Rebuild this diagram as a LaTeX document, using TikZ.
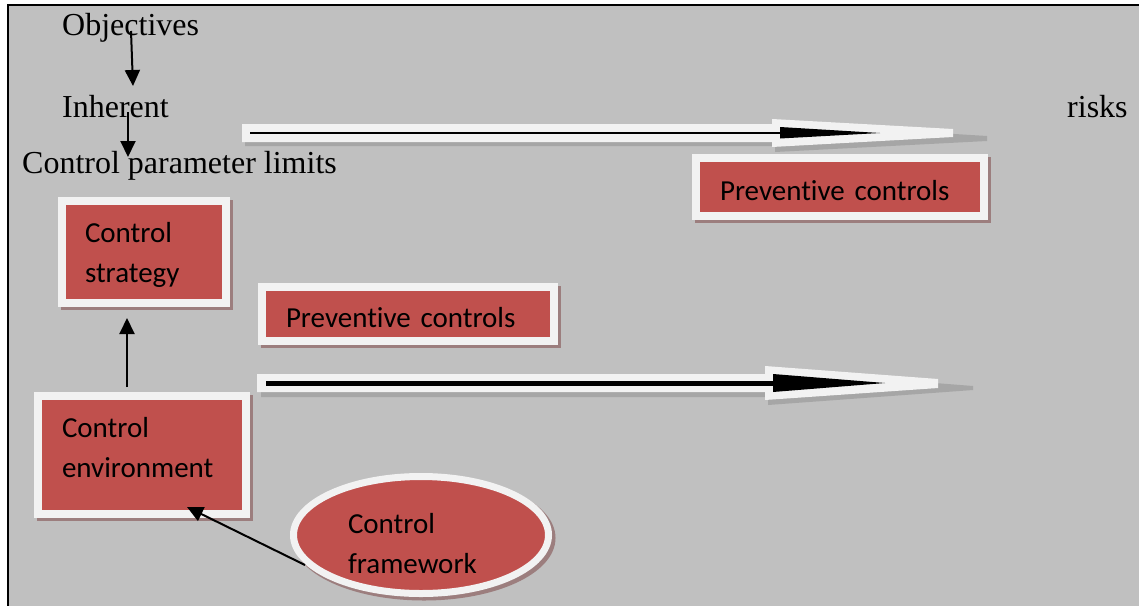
\documentclass[tikz,border=0pt]{standalone}
\usepackage{fontspec}
\setmainfont{Liberation Serif}
\newfontfamily\boxfont[Ligatures=NoCommon]{Carlito}
\usetikzlibrary{arrows.meta,shapes.geometric,shadows,calc}

\definecolor{pagegray}{RGB}{192,192,192}
\definecolor{boxred}{RGB}{192,80,77}
\definecolor{rim}{RGB}{242,242,242}
\definecolor{boxshade}{RGB}{156,126,126}
\definecolor{arrowshade}{RGB}{166,166,166}

\tikzset{
  plain/.style={anchor=base west, inner sep=0pt, font=\fontsize{32}{38}\selectfont},
  panel/.style={rectangle, fill=boxred, draw=rim, line width=8pt, inner sep=0pt,
    align=left, font=\boxfont\fontsize{29}{40}\selectfont,
    drop shadow={shadow xshift=3pt, shadow yshift=-3pt, fill=boxshade,
      draw=boxshade, line width=8pt, opacity=1}},
  conn/.style={line width=2pt, -{Triangle[length=16pt,width=15pt]}},
  blockarrow/.style={fill=rim},
  blockshade/.style={fill=arrowshade},
}

\begin{document}
\begin{tikzpicture}[x=1pt,y=-1pt]
\clip (0,0) rectangle (1139,605);
\useasboundingbox (0,0) rectangle (1139,605);
\fill[white] (0,0) rectangle (1139,605);
\filldraw[fill=pagegray, draw=black, line width=2pt] (7.7,5) rectangle (1150,620);

% upper block arrow
\path[blockshade] (245,128) -- (776,128) -- (776,123) -- (987,136) -- (987,141)
  -- (775,152) -- (775,146) -- (245,146) -- cycle;
\path[blockarrow] (242,124) -- (772,124) -- (772,119) -- (953,129) -- (953,137)
  -- (772,147) -- (772,142) -- (242,142) -- cycle;
\draw[line width=1.8pt] (250,133) -- (781,133);
\fill (780,127) -- (880,133) -- (780,138.5) -- cycle;

% lower block arrow
\path[blockshade] (261,378) -- (769,378) -- (769,370) -- (973,386) -- (973,390)
  -- (768,405) -- (768,397) -- (261,397) -- cycle;
\path[blockarrow] (257,374) -- (765,374) -- (765,366) -- (938,379) -- (938,388)
  -- (765,400) -- (765,392) -- (257,392) -- cycle;
\draw[line width=5pt] (266,383) -- (774,383);
\fill (773,374) -- (885,383) -- (773,392) -- cycle;

% boxes
\node[panel, minimum width=288pt, minimum height=58pt, text width=240pt,
  text height=26pt, text depth=0pt] (pc1) at (840,187) {Preventive controls};
\node[panel, minimum width=292pt, minimum height=54pt, text width=244pt,
  text height=26pt, text depth=0pt] (pc2) at (408,314) {Preventive controls};
\node[panel, minimum width=164pt, minimum height=102pt, text width=118pt,
  text height=22pt, text depth=42pt] (cs) at (144,252) {Control\\strategy};
\node[panel, minimum width=208pt, minimum height=118pt, text width=160pt,
  text height=20pt, text depth=56pt] (env) at (142,455) {Control\\environment};
\node[panel, ellipse, line width=7pt, minimum width=255pt, minimum height=117pt,
  text width=146pt, text height=30pt, text depth=34pt] (fw) at (421,535) {Control\\framework};

% plain labels
\node[plain] (obj) at (62,35) {Objectives};
\node[plain] (inh) at (62,117) {Inherent};
\node[plain] (risks) at (1067,117) {risks};
\node[plain] (cpl) at (22,173) {Control parameter limits};

% connectors
\draw[conn] ($(obj.base west)+(69,-4)$) -- ($(inh.base west)+(71,-31)$);
\draw[conn] ($(inh.base west)+(66,-5)$) -- ($(cpl.base west)+(106,-16)$);
\draw[conn] ($(env.center)+(-15,-68)$) -- ($(cs.center)+(-17,66)$);
\draw[conn] ($(fw.center)+(-116,30)$) -- ($(env.center)+(45,52)$);
\end{tikzpicture}
\end{document}
